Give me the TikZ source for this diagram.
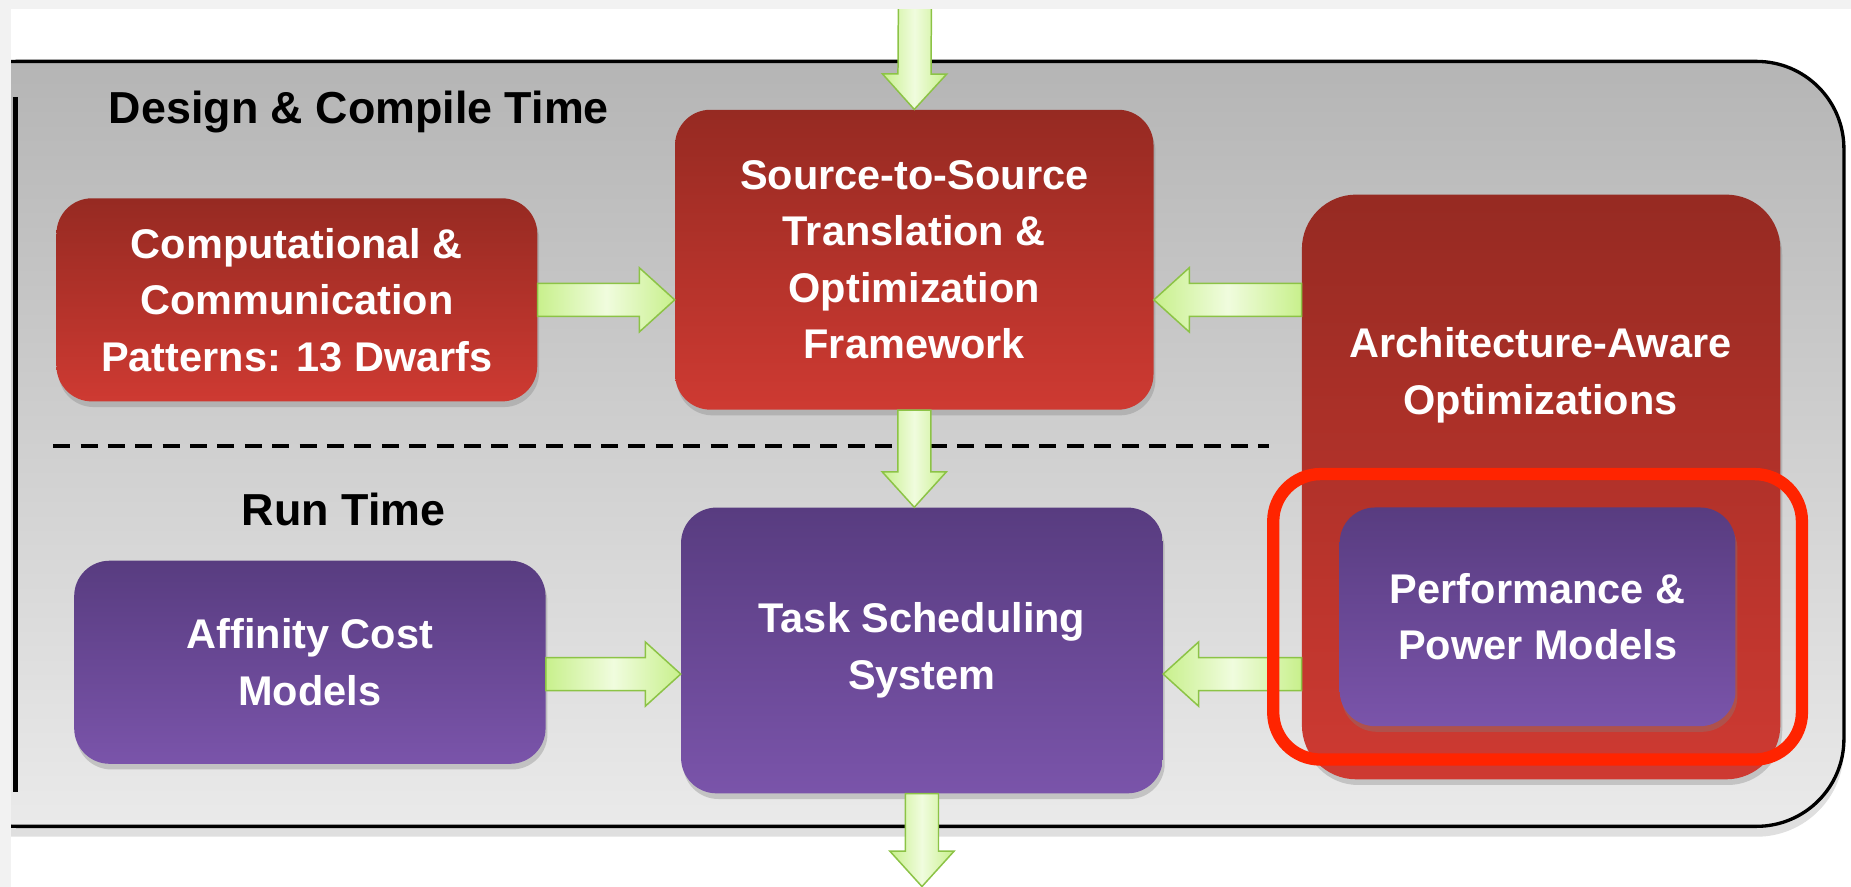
\documentclass[tikz,border=0pt]{standalone}
\usepackage{fontspec}
\setmainfont{Liberation Sans}
\usetikzlibrary{calc,fit,shadows}

\definecolor{redtop}{RGB}{150,42,34}
\definecolor{redbot}{RGB}{206,58,50}
\definecolor{purptop}{RGB}{88,60,128}
\definecolor{purpbot}{RGB}{122,84,170}
\definecolor{frametop}{RGB}{181,181,181}
\definecolor{framebot}{RGB}{234,234,234}
\definecolor{arrline}{RGB}{140,195,70}
\definecolor{arrgreen}{RGB}{200,240,140}
\definecolor{arrlight}{RGB}{240,252,222}
\definecolor{hired}{RGB}{255,36,0}
\definecolor{edgegray}{RGB}{242,242,242}

\newcommand\shaftw{0.35cm}
\newcommand\headw{0.68cm}
\newcommand\headl{0.75cm}
% fat outlined arrow from #1 to #2
\newcommand\fatarrow[2]{%
  \path[fat] let \p1=(#1), \p2=(#2), \n1={atan2(\y2-\y1,\x2-\x1)} in
    ($(\p1)+(\n1+90:\shaftw)$) -- ($(\p2)+(\n1+180:\headl)+(\n1+90:\shaftw)$)
    -- ($(\p2)+(\n1+180:\headl)+(\n1+90:\headw)$) -- (\p2)
    -- ($(\p2)+(\n1+180:\headl)+(\n1-90:\headw)$)
    -- ($(\p2)+(\n1+180:\headl)+(\n1-90:\shaftw)$)
    -- ($(\p1)+(\n1-90:\shaftw)$) -- cycle;}

\tikzset{
  box/.style={rounded corners=0.75cm, inner sep=0pt, align=center, text=white,
    font=\fontsize{25}{34}\selectfont\bfseries,
    drop shadow={opacity=0.35, shadow xshift=0.04cm, shadow yshift=-0.12cm}},
  redbox/.style={box, top color=redtop, bottom color=redbot},
  purpbox/.style={box, top color=purptop, bottom color=purpbot},
  boxtext/.style={text=white, align=center, font=\fontsize{25}{34}\selectfont\bfseries},
  header/.style={font=\fontsize{27}{32}\selectfont\bfseries},
  fat/.style={draw=arrline, line width=0.9pt, left color=arrgreen,
    right color=arrgreen, middle color=arrlight},
  divider/.style={line width=2.4pt, dash pattern=on 0.36cm off 0.22cm},
  hilite/.style={draw=hired, line width=0.26cm, rounded corners=1cm},
}

\begin{document}
\begin{tikzpicture}[x=0.025cm, y=-0.025cm]
	\useasboundingbox (0,0) rectangle (1568,751);
	\clip (0,0) rectangle (1568,751);

	% frame
	\draw[line width=2pt, rounded corners=1.85cm, top color=frametop, bottom color=framebot,
		drop shadow={opacity=0.25, shadow xshift=0cm, shadow yshift=-0.22cm}]
		(-60,52) rectangle (1562,700);
	\draw[line width=3pt] (13,82) -- (13,671);

	\node[header] (design)  at (304, 95) {Design \& Compile Time};
	\node[header] (runtime) at (291,432) {Run Time};
	\coordinate (dl) at (45,378);
	\coordinate (dr) at (1075,378);
	\draw[divider] (dl) -- (dr);

	% boxes
	\node[redbox, minimum width=10.18cm, minimum height=4.3cm] (comp) at (251.5,254)
		{Computational \&\\Communication\\Patterns: 13 Dwarfs};
	\node[redbox, minimum width=10.13cm, minimum height=6.35cm] (src) at (774.5,220)
		{Source-to-Source\\Translation \&\\Optimization\\Framework};
	\node[redbox, rounded corners=1.15cm, minimum width=10.13cm, minimum height=12.38cm] (arch) at (1305.5,412.5) {};
	\node[boxtext] (archtxt) at (1305,318) {Architecture-Aware\\Optimizations};
	\node[purpbox, minimum width=9.98cm, minimum height=4.3cm] (aff) at (262.5,561)
		{Affinity Cost\\Models};
	\node[purpbox, minimum width=10.2cm, minimum height=6.05cm] (task) at (781,551)
		{Task Scheduling\\System};
	\node[purpbox, minimum width=8.38cm, minimum height=4.63cm] (perf) at (1302.5,522.5)
		{Performance \&\\Power Models};

	% arrows
	\coordinate (entry) at (775,6);
	\coordinate (exit) at (781,751);
	\coordinate (affout) at ([yshift=-0.25cm]aff.east);
	\coordinate (perfout) at (arch.west |- affout);
	\fatarrow{entry}{src.north}
	\fatarrow{comp.east}{comp.east -| src.west}
	\fatarrow{arch.west |- comp.east}{src.east |- comp.east}
	\fatarrow{src.south}{src.south |- task.north}
	\fatarrow{affout}{affout -| task.west}
	\fatarrow{perfout}{perfout -| task.east}
	\fatarrow{task.south}{exit}

	\node[hilite, fit=(perf), inner xsep=1.4cm, inner ysep=0.7cm] (focus) {};

	% screenshot edges
	\fill[edgegray] (0,0) rectangle (1568,8);
	\fill[edgegray] (0,0) rectangle (9,751);
\end{tikzpicture}
\end{document}
